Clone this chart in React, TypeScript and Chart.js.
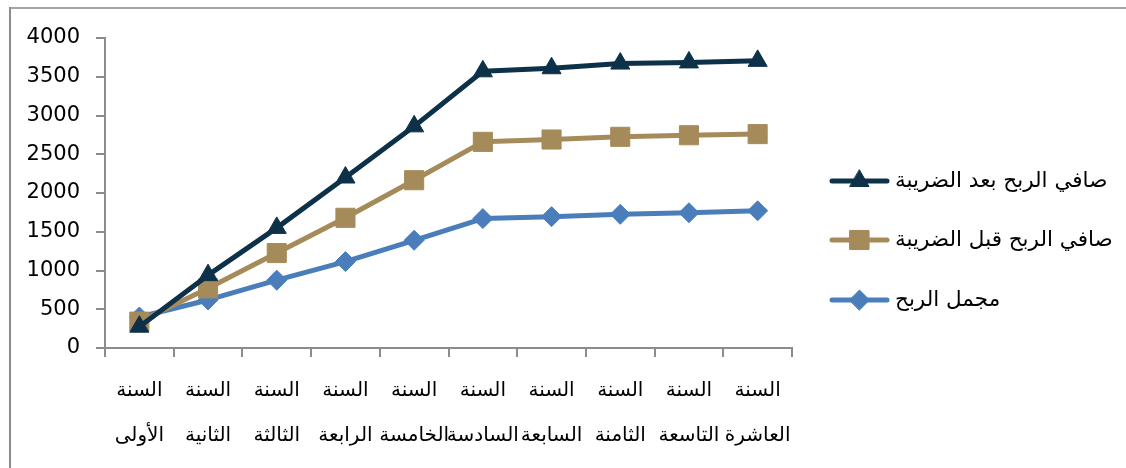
import React, { useEffect, useRef } from "react";
import { Chart, registerables } from "chart.js";
import { drawPoint } from "chart.js/helpers";

Chart.register(...registerables);

const yearWord = "السنة";
const ordinals = [
  "الأولى",
  "الثانية",
  "الثالثة",
  "الرابعة",
  "الخامسة",
  "السادسة",
  "السابعة",
  "الثامنة",
  "التاسعة",
  "العاشرة",
];
const categories = ordinals.map((o) => [yearWord, o]);

const seriesNames = [
  "صافي الربح بعد الضريبة",
  "صافي الربح قبل الضريبة",
  "مجمل الربح",
];
const netAfterTax = [275, 940, 1550, 2200, 2860, 3570, 3610, 3670, 3685, 3705];
const netBeforeTax = [340, 770, 1225, 1680, 2165, 2660, 2690, 2725, 2745, 2760];
const grossProfit = [400, 620, 875, 1115, 1390, 1670, 1695, 1725, 1745, 1770];

const yMin = 0;
const yMax = 4000;
const yStep = 500;

const colors = ["#0D3149", "#A68B5A", "#4A7EBB"];
const pointStyles = ["triangle", "rect", "rectRot"];
const pointRadii = [11, 13.5, 10];

const FONT = "'DejaVu Sans', 'Liberation Sans', sans-serif";

const legendPlugin = {
  id: "customLegend",
  afterDraw(chart: any) {
    const ctx = chart.ctx;
    const area = chart.chartArea;
    const ys = [173, 232, 292];
    seriesNames.forEach((name, i) => {
      const y = ys[i];
      const x0 = area.right + 40;
      const x1 = area.right + 95;
      ctx.save();
      ctx.strokeStyle = colors[i];
      ctx.lineWidth = 5;
      ctx.lineCap = "round";
      ctx.beginPath();
      ctx.moveTo(x0, y);
      ctx.lineTo(x1, y);
      ctx.stroke();
      ctx.fillStyle = colors[i];
      ctx.strokeStyle = colors[i];
      ctx.lineWidth = 1;
      drawPoint(ctx, { pointStyle: pointStyles[i], radius: pointRadii[i], rotation: 0, borderWidth: 1 } as any, (x0 + x1) / 2, y);
      ctx.fillStyle = "#000";
      ctx.font = `21.5px ${FONT}`;
      ctx.textAlign = "left";
      ctx.textBaseline = "middle";
      ctx.fillText(name, area.right + 103, y);
      ctx.restore();
    });
  },
};

export default function App() {
  const canvasRef = useRef<HTMLCanvasElement>(null);

  useEffect(() => {
    document.documentElement.style.overflow = "hidden";
    document.body.style.overflow = "hidden";
    const canvas = canvasRef.current;
    if (!canvas) return;
    const seriesData = [netAfterTax, netBeforeTax, grossProfit];
    const chart = new Chart(canvas, {
      type: "line",
      data: {
        labels: categories,
        datasets: seriesNames.map((name, i) => ({
          label: name,
          data: seriesData[i],
          borderColor: colors[i],
          backgroundColor: colors[i],
          borderWidth: 5,
          borderCapStyle: "round",
          borderJoinStyle: "round",
          pointStyle: pointStyles[i],
          pointRadius: pointRadii[i],
          pointBackgroundColor: colors[i],
          pointBorderColor: colors[i],
          pointBorderWidth: 1,
          tension: 0,
          fill: false,
        })),
      } as any,
      options: {
        responsive: false,
        animation: false,
        devicePixelRatio: 1,
        layout: { padding: { left: 0, top: 30, right: 326, bottom: 0 } },
        plugins: {
          legend: { display: false },
          tooltip: { enabled: false },
          title: { display: false },
        },
        scales: {
          x: {
            offset: true,
            grid: {
              offset: true,
              drawOnChartArea: false,
              drawTicks: true,
              tickLength: 9,
              color: "#8c8c8c",
              lineWidth: 2,
            },
            border: { color: "#8c8c8c", width: 2 },
            ticks: {
              maxRotation: 0,
              minRotation: 0,
              autoSkip: false,
              padding: 11,
              color: "#000",
              font: { family: FONT, size: 20, lineHeight: 2.25 },
            },
            afterFit: (s: any) => {
              s.height = 112;
            },
          },
          y: {
            min: yMin,
            max: yMax,
            grid: {
              drawOnChartArea: false,
              drawTicks: true,
              tickLength: 9,
              color: "#8c8c8c",
              lineWidth: 2,
            },
            border: { color: "#8c8c8c", width: 2 },
            ticks: {
              stepSize: yStep,
              padding: 16,
              color: "#000",
              font: { family: FONT, size: 21 },
              callback: (v: any) => String(v),
            },
            afterFit: (s: any) => {
              s.width = 97;
            },
          },
        },
      } as any,
      plugins: [legendPlugin],
    });
    return () => chart.destroy();
  }, []);

  return (
    <div style={{ position: "relative", width: 1110, height: 452 }}>
      <div
        style={{
          position: "fixed",
          left: 9,
          right: 0,
          top: 7,
          height: 2,
          background: "#a6a6a6",
          pointerEvents: "none",
        }}
      />
      <div
        style={{
          position: "fixed",
          left: 9,
          top: 7,
          bottom: 0,
          width: 2,
          background: "#8c8c8c",
          pointerEvents: "none",
        }}
      />
      <canvas
        ref={canvasRef}
        width={1110}
        height={452}
        style={{ position: "absolute", left: 0, top: 0, width: 1110, height: 452 }}
      />
    </div>
  );
}
